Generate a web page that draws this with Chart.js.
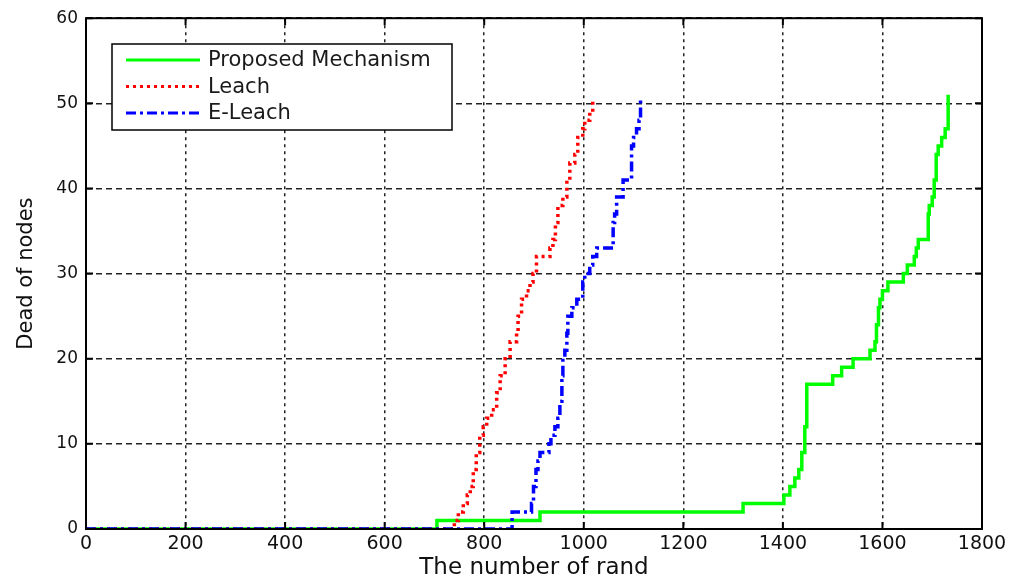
<!DOCTYPE html>
<html>
<head>
<meta charset="utf-8">
<script src="https://cdn.jsdelivr.net/npm/chart.js@4.4.1/dist/chart.umd.min.js"></script>
<style>
  html, body { margin: 0; padding: 0; background: #fff; }
  #chart { display: block; }
</style>
</head>
<body>
<canvas id="chart" width="1013" height="586"></canvas>
<script>
// axis ticks
const xTicks = [0, 200, 400, 600, 800, 1000, 1200, 1400, 1600, 1800];
const yTicks = [0, 10, 20, 30, 40, 50, 60];

const seriesNames = ["Proposed Mechanism", "Leach", "E-Leach"];

// round at which the count changes -> dead nodes from that round on
const proposedRound = [0, 705, 912, 1320, 1402, 1414, 1424, 1432, 1438, 1444, 1448, 1500, 1518, 1541, 1575, 1585, 1588, 1592, 1595, 1600, 1611, 1642, 1650, 1664, 1668, 1672, 1692, 1694, 1700, 1704, 1708, 1712, 1719, 1726, 1732];
const proposedDead  = [0, 1, 2, 3, 4, 5, 6, 7, 9, 12, 17, 18, 19, 20, 21, 22, 24, 26, 27, 28, 29, 30, 31, 32, 33, 34, 37, 38, 39, 41, 44, 45, 46, 47, 51];

const leachRound = [0, 740, 748, 758, 766, 772, 778, 784, 791, 798, 805, 815, 825, 832, 842, 852, 865, 868, 875, 885, 892, 898, 905, 932, 938, 943, 948, 958, 966, 972, 982, 988, 998, 1002, 1012, 1018];
const leachDead  = [0, 1, 2, 3, 4, 5, 7, 9, 11, 12, 13, 14, 16, 18, 20, 22, 23, 25, 27, 28, 29, 30, 32, 33, 34, 36, 38, 39, 41, 43, 44, 46, 47, 48, 49, 50.5];

const eleachRound = [0, 856, 895, 899, 904, 908, 912, 930, 934, 942, 948, 952, 956, 958, 962, 966, 968, 976, 986, 998, 1002, 1012, 1018, 1026, 1059, 1062, 1066, 1079, 1096, 1100, 1106, 1111, 1114];
const eleachDead  = [0, 2, 3, 5, 7, 8, 9, 10, 11, 12, 13, 15, 18, 20, 21, 23, 25, 26, 27, 29, 30, 31, 32, 33, 36, 37, 39, 41, 45, 46, 47, 48, 50.5];

function toPoints(xs, ys) {
  return xs.map((x, i) => ({ x: x, y: ys[i] }));
}

const boxPlugin = {
  id: "boxAndLegend",
  afterDatasetsDraw(chart) {
    const ctx = chart.ctx;
    const a = chart.chartArea;
    const xs = chart.scales.x;
    const ys = chart.scales.y;
    ctx.save();
    ctx.strokeStyle = "#000";
    ctx.lineWidth = 2;
    ctx.setLineDash([]);
    ctx.strokeRect(a.left, a.top, a.right - a.left, a.bottom - a.top);
    // inward tick marks
    ctx.beginPath();
    xTicks.forEach(v => {
      const px = xs.getPixelForValue(v);
      ctx.moveTo(px, a.bottom); ctx.lineTo(px, a.bottom - 7);
      ctx.moveTo(px, a.top); ctx.lineTo(px, a.top + 7);
    });
    yTicks.forEach(v => {
      const py = ys.getPixelForValue(v);
      ctx.moveTo(a.left, py); ctx.lineTo(a.left + 7, py);
      ctx.moveTo(a.right, py); ctx.lineTo(a.right - 7, py);
    });
    ctx.stroke();

    // legend
    const lx = 112, ly = 44, lw = 340, lh = 86;
    ctx.fillStyle = "#fff";
    ctx.fillRect(lx, ly, lw, lh);
    ctx.lineWidth = 1.5;
    ctx.strokeRect(lx, ly, lw, lh);
    ctx.font = "21px 'DejaVu Sans'";
    ctx.textBaseline = "middle";
    chart.data.datasets.forEach((ds, i) => {
      const ry = 60 + i * 26.5;
      ctx.strokeStyle = ds.borderColor;
      ctx.lineWidth = 3;
      ctx.setLineDash(ds.borderDash || []);
      ctx.beginPath();
      ctx.moveTo(126, ry);
      ctx.lineTo(200, ry);
      ctx.stroke();
      ctx.fillStyle = "#1a1a1a";
      ctx.fillText(ds.label, 208, ry + 1);
    });
    ctx.restore();
  }
};

new Chart(document.getElementById("chart"), {
  type: "line",
  data: {
    datasets: [
      {
        label: seriesNames[0],
        data: toPoints(proposedRound, proposedDead),
        borderColor: "#00ff00",
        borderWidth: 3.5,
        stepped: true,
        order: 3
      },
      {
        label: seriesNames[1],
        data: toPoints(leachRound, leachDead),
        borderColor: "#ff0000",
        borderWidth: 3.5,
        borderDash: [3, 4],
        stepped: true,
        order: 2
      },
      {
        label: seriesNames[2],
        data: toPoints(eleachRound, eleachDead),
        borderColor: "#0000ff",
        borderWidth: 3.5,
        borderDash: [10, 4, 3, 4],
        stepped: true,
        order: 1
      }
    ]
  },
  options: {
    responsive: false,
    animation: false,
    layout: { padding: { left: 10, top: 14, right: 31, bottom: 0 } },
    elements: { point: { radius: 0 }, line: { tension: 0 } },
    plugins: { legend: { display: false }, tooltip: { enabled: false } },
    scales: {
      x: {
        type: "linear",
        min: 0,
        max: 1800,
        afterBuildTicks: s => { s.ticks = xTicks.map(v => ({ value: v })); },
        afterFit: s => { s.height = 57; },
        grid: { color: "#222", lineWidth: 1.5, drawTicks: false },
        border: { display: false, dash: [3, 4] },
        ticks: {
          padding: 4,
          color: "#111",
          font: { family: "DejaVu Sans", size: 19 },
          callback: v => String(v)
        },
        title: {
          display: true,
          text: "The number of rand",
          color: "#111",
          font: { family: "DejaVu Sans", size: 23 }
        }
      },
      y: {
        min: 0,
        max: 60,
        afterBuildTicks: s => { s.ticks = yTicks.map(v => ({ value: v })); },
        afterFit: s => { s.width = 76; },
        grid: { color: "#222", lineWidth: 1.5, drawTicks: false },
        border: { display: false, dash: [6, 4] },
        ticks: {
          padding: 8,
          color: "#111",
          font: { family: "DejaVu Sans", size: 17 },
          callback: v => String(v)
        },
        title: {
          display: true,
          text: "Dead of nodes",
          color: "#111",
          font: { family: "DejaVu Sans", size: 21 }
        }
      }
    }
  },
  plugins: [boxPlugin]
});
</script>
</body>
</html>
